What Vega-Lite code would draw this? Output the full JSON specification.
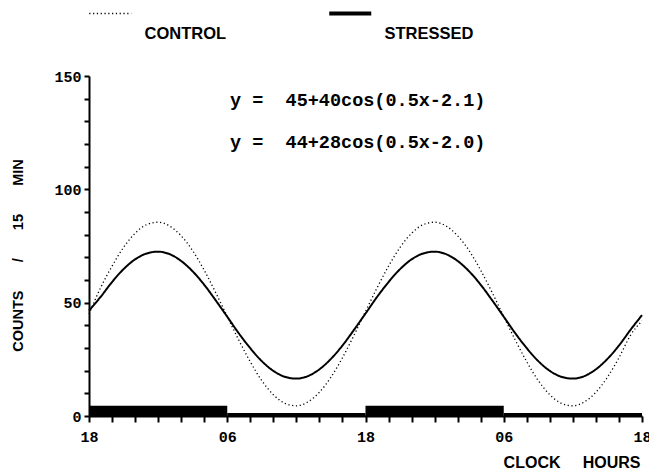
{
  "$schema": "https://vega.github.io/schema/vega-lite/v6.json",
  "width": 553,
  "height": 340,
  "autosize": "none",
  "padding": {"left": 89, "top": 76, "right": 7, "bottom": 57},
  "background": "white",
  "config": {
    "view": {"stroke": null},
    "font": "Liberation Sans",
    "axis": {
      "grid": false,
      "domainColor": "black",
      "domainWidth": 2,
      "tickColor": "black",
      "tickWidth": 2,
      "labelColor": "black",
      "titleColor": "black",
      "labelFont": "Liberation Mono",
      "labelFontWeight": "bold",
      "labelFontSize": 15,
      "titleFont": "Liberation Sans",
      "titleFontWeight": "bold"
    }
  },
  "resolve": {"axis": {"x": "independent", "y": "independent"}},
  "datasets": {
    "curves": [
      {"hour": 0, "counts": 46.5, "group": "STRESSED"},
      {"hour": 1, "counts": 52.5, "group": "STRESSED"},
      {"hour": 2, "counts": 59.1, "group": "STRESSED"},
      {"hour": 3, "counts": 64.8, "group": "STRESSED"},
      {"hour": 4, "counts": 69.1, "group": "STRESSED"},
      {"hour": 5, "counts": 71.7, "group": "STRESSED"},
      {"hour": 6, "counts": 72.5, "group": "STRESSED"},
      {"hour": 7, "counts": 71.4, "group": "STRESSED"},
      {"hour": 8, "counts": 68.4, "group": "STRESSED"},
      {"hour": 9, "counts": 63.8, "group": "STRESSED"},
      {"hour": 10, "counts": 57.9, "group": "STRESSED"},
      {"hour": 11, "counts": 51.0, "group": "STRESSED"},
      {"hour": 12, "counts": 43.8, "group": "STRESSED"},
      {"hour": 13, "counts": 36.5, "group": "STRESSED"},
      {"hour": 14, "counts": 29.9, "group": "STRESSED"},
      {"hour": 15, "counts": 24.2, "group": "STRESSED"},
      {"hour": 16, "counts": 19.9, "group": "STRESSED"},
      {"hour": 17, "counts": 17.3, "group": "STRESSED"},
      {"hour": 18, "counts": 16.5, "group": "STRESSED"},
      {"hour": 19, "counts": 17.6, "group": "STRESSED"},
      {"hour": 20, "counts": 20.6, "group": "STRESSED"},
      {"hour": 21, "counts": 25.2, "group": "STRESSED"},
      {"hour": 22, "counts": 31.1, "group": "STRESSED"},
      {"hour": 23, "counts": 38.0, "group": "STRESSED"},
      {"hour": 24, "counts": 45.2, "group": "STRESSED"},
      {"hour": 25, "counts": 52.5, "group": "STRESSED"},
      {"hour": 26, "counts": 59.1, "group": "STRESSED"},
      {"hour": 27, "counts": 64.8, "group": "STRESSED"},
      {"hour": 28, "counts": 69.1, "group": "STRESSED"},
      {"hour": 29, "counts": 71.7, "group": "STRESSED"},
      {"hour": 30, "counts": 72.5, "group": "STRESSED"},
      {"hour": 31, "counts": 71.4, "group": "STRESSED"},
      {"hour": 32, "counts": 68.4, "group": "STRESSED"},
      {"hour": 33, "counts": 63.8, "group": "STRESSED"},
      {"hour": 34, "counts": 57.9, "group": "STRESSED"},
      {"hour": 35, "counts": 51.0, "group": "STRESSED"},
      {"hour": 36, "counts": 43.8, "group": "STRESSED"},
      {"hour": 37, "counts": 36.5, "group": "STRESSED"},
      {"hour": 38, "counts": 29.9, "group": "STRESSED"},
      {"hour": 39, "counts": 24.2, "group": "STRESSED"},
      {"hour": 40, "counts": 19.9, "group": "STRESSED"},
      {"hour": 41, "counts": 17.3, "group": "STRESSED"},
      {"hour": 42, "counts": 16.5, "group": "STRESSED"},
      {"hour": 43, "counts": 17.6, "group": "STRESSED"},
      {"hour": 44, "counts": 20.6, "group": "STRESSED"},
      {"hour": 45, "counts": 25.2, "group": "STRESSED"},
      {"hour": 46, "counts": 31.1, "group": "STRESSED"},
      {"hour": 47, "counts": 38.0, "group": "STRESSED"},
      {"hour": 48, "counts": 44.5, "group": "STRESSED"},
      {"hour": 0, "counts": 45.0, "group": "CONTROL"},
      {"hour": 1, "counts": 56.5, "group": "CONTROL"},
      {"hour": 2, "counts": 66.1, "group": "CONTROL"},
      {"hour": 3, "counts": 74.4, "group": "CONTROL"},
      {"hour": 4, "counts": 80.6, "group": "CONTROL"},
      {"hour": 5, "counts": 84.4, "group": "CONTROL"},
      {"hour": 6, "counts": 85.5, "group": "CONTROL"},
      {"hour": 7, "counts": 83.8, "group": "CONTROL"},
      {"hour": 8, "counts": 79.5, "group": "CONTROL"},
      {"hour": 9, "counts": 72.9, "group": "CONTROL"},
      {"hour": 10, "counts": 64.3, "group": "CONTROL"},
      {"hour": 11, "counts": 54.4, "group": "CONTROL"},
      {"hour": 12, "counts": 43.9, "group": "CONTROL"},
      {"hour": 13, "counts": 33.5, "group": "CONTROL"},
      {"hour": 14, "counts": 23.9, "group": "CONTROL"},
      {"hour": 15, "counts": 15.6, "group": "CONTROL"},
      {"hour": 16, "counts": 9.4, "group": "CONTROL"},
      {"hour": 17, "counts": 5.6, "group": "CONTROL"},
      {"hour": 18, "counts": 4.5, "group": "CONTROL"},
      {"hour": 19, "counts": 6.2, "group": "CONTROL"},
      {"hour": 20, "counts": 10.5, "group": "CONTROL"},
      {"hour": 21, "counts": 17.1, "group": "CONTROL"},
      {"hour": 22, "counts": 25.7, "group": "CONTROL"},
      {"hour": 23, "counts": 35.6, "group": "CONTROL"},
      {"hour": 24, "counts": 46.1, "group": "CONTROL"},
      {"hour": 25, "counts": 56.5, "group": "CONTROL"},
      {"hour": 26, "counts": 66.1, "group": "CONTROL"},
      {"hour": 27, "counts": 74.4, "group": "CONTROL"},
      {"hour": 28, "counts": 80.6, "group": "CONTROL"},
      {"hour": 29, "counts": 84.4, "group": "CONTROL"},
      {"hour": 30, "counts": 85.5, "group": "CONTROL"},
      {"hour": 31, "counts": 83.8, "group": "CONTROL"},
      {"hour": 32, "counts": 79.5, "group": "CONTROL"},
      {"hour": 33, "counts": 72.9, "group": "CONTROL"},
      {"hour": 34, "counts": 64.3, "group": "CONTROL"},
      {"hour": 35, "counts": 54.4, "group": "CONTROL"},
      {"hour": 36, "counts": 43.9, "group": "CONTROL"},
      {"hour": 37, "counts": 33.5, "group": "CONTROL"},
      {"hour": 38, "counts": 23.9, "group": "CONTROL"},
      {"hour": 39, "counts": 15.6, "group": "CONTROL"},
      {"hour": 40, "counts": 9.4, "group": "CONTROL"},
      {"hour": 41, "counts": 5.6, "group": "CONTROL"},
      {"hour": 42, "counts": 4.5, "group": "CONTROL"},
      {"hour": 43, "counts": 6.2, "group": "CONTROL"},
      {"hour": 44, "counts": 10.5, "group": "CONTROL"},
      {"hour": 45, "counts": 17.1, "group": "CONTROL"},
      {"hour": 46, "counts": 25.7, "group": "CONTROL"},
      {"hour": 47, "counts": 35.6, "group": "CONTROL"},
      {"hour": 48, "counts": 42.0, "group": "CONTROL"}
    ],
    "bars": [
      {"hour": 0, "hour_end": 12, "counts": 4.5, "phase": "dark"},
      {"hour": 12, "hour_end": 24, "counts": 1.3, "phase": "light"},
      {"hour": 24, "hour_end": 36, "counts": 4.5, "phase": "dark"},
      {"hour": 36, "hour_end": 48, "counts": 1.3, "phase": "light"}
    ],
    "equations": [
      {"group": "CONTROL", "equation": "y = \u00a045+40cos(0.5x-2.1)"},
      {"group": "STRESSED", "equation": "y = \u00a044+28cos(0.5x-2.0)"}
    ]
  },
  "layer": [
    {
      "encoding": {
        "x": {
          "field": "hour", "type": "quantitative",
          "scale": {"domain": [0, 48], "nice": false, "zero": false},
          "axis": {
            "values": [0, 2, 4, 6, 8, 10, 12, 14, 16, 18, 20, 22, 24, 26, 28, 30, 32, 34, 36, 38, 40, 42, 44, 46, 48],
            "labelExpr": "datum.value % 24 === 0 ? '18' : (datum.value % 12 === 0 ? '06' : '')",
            "tickSize": 6,
            "labelPadding": 7,
            "labelFlush": false,
            "labelOverlap": false,
            "title": "CLOCK\u00a0\u00a0\u00a0\u00a0\u00a0HOURS",
            "titleFontSize": 16,
            "titleAlign": "right",
            "titleBaseline": "middle",
            "titleX": 551,
            "titleY": 46
          }
        },
        "y": {
          "field": "counts", "type": "quantitative",
          "scale": {"domain": [0, 150], "nice": false},
          "axis": {
            "values": [0, 10, 20, 30, 40, 50, 60, 70, 80, 90, 100, 110, 120, 130, 140, 150],
            "labelExpr": "datum.value % 50 === 0 ? datum.label : ''",
            "tickSize": 5,
            "labelPadding": 3,
            "labelOverlap": false,
            "title": "COUNTS\u00a0\u00a0\u00a0\u00a0\u00a0\u00a0\u00a0/\u00a0\u00a0\u00a0\u00a0\u00a0\u00a0\u00a015\u00a0\u00a0\u00a0\u00a0\u00a0\u00a0\u00a0MIN",
            "titleFontSize": 14.5,
            "titleAngle": -90,
            "titleAlign": "center",
            "titleBaseline": "middle",
            "titleX": -71,
            "titleY": 179
          }
        }
      },
      "layer": [
        {
          "data": {"name": "bars"},
          "mark": {"type": "rect", "color": "black"},
          "encoding": {
            "x2": {"field": "hour_end"},
            "y2": {"datum": 0}
          }
        },
        {
          "data": {"name": "curves"},
          "mark": {"type": "line", "color": "black", "interpolate": "monotone"},
          "encoding": {
            "strokeDash": {
              "field": "group",
              "type": "nominal",
              "scale": {"domain": ["CONTROL", "STRESSED"], "range": [[1.2, 2.6], [1, 0]]},
              "legend": {
                "orient": "none",
                "legendX": 13,
                "legendY": -71,
                "direction": "horizontal",
                "title": null,
                "padding": 0,
                "symbolType": "stroke",
                "symbolSize": 1764,
                "symbolStrokeColor": "black",
                "labelFont": "Liberation Sans",
                "labelFontWeight": "bold",
                "labelFontSize": 16.5,
                "labelColor": "black",
                "labelBaseline": "middle",
                "labelOffset": 26,
                "columnPadding": 94,
                "encode": {
                  "symbols": {"update": {"strokeWidth": {"signal": "datum.value === 'STRESSED' ? 4 : 1.5"}}},
                  "labels": {"update": {"dy": {"value": 21}}}
                }
              }
            },
            "strokeWidth": {
              "condition": {"test": "datum.group === 'STRESSED'", "value": 2},
              "value": 1.3
            }
          }
        }
      ]
    },
    {
      "data": {"name": "equations"},
      "transform": [{"filter": "datum.group === 'CONTROL'"}],
      "mark": {"type": "text", "font": "Liberation Mono", "fontWeight": "bold", "fontSize": 18.5, "align": "left", "baseline": "middle", "color": "black"},
      "encoding": {
        "x": {"datum": 12.24, "type": "quantitative", "axis": null},
        "y": {"datum": 139.4, "type": "quantitative", "axis": null},
        "text": {"field": "equation", "type": "nominal"}
      }
    },
    {
      "data": {"name": "equations"},
      "transform": [{"filter": "datum.group === 'STRESSED'"}],
      "mark": {"type": "text", "font": "Liberation Mono", "fontWeight": "bold", "fontSize": 18.5, "align": "left", "baseline": "middle", "color": "black"},
      "encoding": {
        "x": {"datum": 12.24, "type": "quantitative", "axis": null},
        "y": {"datum": 120.9, "type": "quantitative", "axis": null},
        "text": {"field": "equation", "type": "nominal"}
      }
    }
  ]
}
